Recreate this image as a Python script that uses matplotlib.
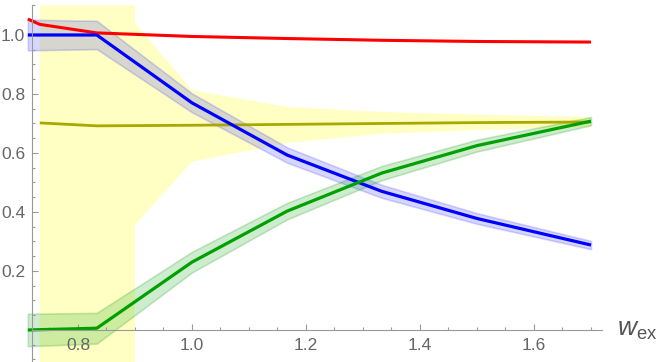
import numpy as np
import matplotlib
matplotlib.use("Agg")
import matplotlib.pyplot as plt
from matplotlib.ticker import FixedLocator

plt.rcParams['font.family'] = ['Liberation Sans', 'DejaVu Sans']
plt.rcParams['mathtext.fontset'] = 'custom'
plt.rcParams['mathtext.rm'] = 'Liberation Sans'
plt.rcParams['mathtext.it'] = 'Liberation Sans:italic'

# readings
x = [0.712, 0.833, 1.0, 1.167, 1.333, 1.5, 1.7]

blue = [1.0, 1.0, 0.77, 0.593, 0.47, 0.378, 0.288]
blue_err = [0.052, 0.048, 0.032, 0.026, 0.022, 0.018, 0.014]

green = [0.0, 0.006, 0.23, 0.403, 0.532, 0.625, 0.708]
green_err = [0.055, 0.052, 0.035, 0.028, 0.024, 0.02, 0.014]

red_x = [0.712, 0.733, 0.833, 1.0, 1.167, 1.333, 1.5, 1.7]
red = [1.054, 1.036, 1.007, 0.995, 0.988, 0.982, 0.978, 0.976]

olive_x = [0.733, 0.833, 1.0, 1.167, 1.333, 1.5, 1.7]
olive = [0.702, 0.692, 0.694, 0.697, 0.700, 0.703, 0.705]

band_x = [0.733, 0.9, 0.9, 1.0, 1.167, 1.333, 1.5, 1.7]
band_lo = [-0.3, -0.3, 0.356, 0.57, 0.634, 0.665, 0.678, 0.688]
band_hi = [1.10, 1.10, 1.04, 0.813, 0.756, 0.739, 0.73, 0.722]

fig = plt.figure(figsize=(6.64, 3.62), dpi=100)
ax = fig.add_axes([0, 0, 1, 1])

ax.fill_between(band_x, band_lo, band_hi, color='#ffff70', alpha=0.42, lw=0)

b = np.array(blue); be = np.array(blue_err)
ax.fill_between(x, b - be, b + be, color='#3333ff', alpha=0.2, lw=1.2, edgecolor=(0.2, 0.2, 1, 0.15))
g = np.array(green); ge = np.array(green_err)
ax.fill_between(x, g - ge, g + ge, color='#22aa22', alpha=0.22, lw=1.2, edgecolor=(0.1, 0.6, 0.1, 0.15))

ax.plot(olive_x, olive, color='#a8a800', lw=2.0, solid_capstyle='butt')
ax.plot(red_x, red, color='#ff0000', lw=2.2, solid_capstyle='butt')
ax.plot(x, blue, color='#0000ff', lw=2.3, solid_capstyle='butt')
ax.plot(x, green, color='#00a000', lw=2.3, solid_capstyle='butt')

ax.set_xlim(0.6632, 1.8281)
ax.set_ylim(-0.1085, 1.1186)

ax.patch.set_alpha(0)
gray = '#999999'
for s in ['top', 'right']:
    ax.spines[s].set_visible(False)
ax.spines['left'].set_position(('data', 0.7193))
ax.spines['bottom'].set_position(('data', 0.0))
ax.spines['left'].set_bounds(-0.11, 1.10)
ax.spines['bottom'].set_bounds(0.7193, 1.72)
for s in ['left', 'bottom']:
    ax.spines[s].set_color(gray)
    ax.spines[s].set_linewidth(0.8)

ax.xaxis.set_major_locator(FixedLocator([0.8, 1.0, 1.2, 1.4, 1.6]))
ax.xaxis.set_minor_locator(FixedLocator(np.round(np.arange(0.75, 1.72, 0.05), 3)))
ax.yaxis.set_major_locator(FixedLocator([0.2, 0.4, 0.6, 0.8, 1.0]))
ax.yaxis.set_minor_locator(FixedLocator(np.round(np.arange(-0.1, 1.11, 0.05), 3)))
ax.xaxis.set_major_formatter(plt.FuncFormatter(lambda v, p: f"{v:.1f}"))
ax.yaxis.set_major_formatter(plt.FuncFormatter(lambda v, p: f"{v:.1f}"))

ax.tick_params(which='both', direction='in', color=gray, width=0.8, labelcolor='#666666', labelsize=12.5)
ax.tick_params(which='major', length=4)
ax.tick_params(which='minor', length=2.2)
ax.tick_params(axis='y', pad=5)
ax.tick_params(axis='x', pad=6)

ax.text(1.745, 0.0, r'$w_{\mathrm{ex}}$', fontsize=19, color='#555555', ha='left', va='center')

fig.savefig('out.png', dpi=100)
